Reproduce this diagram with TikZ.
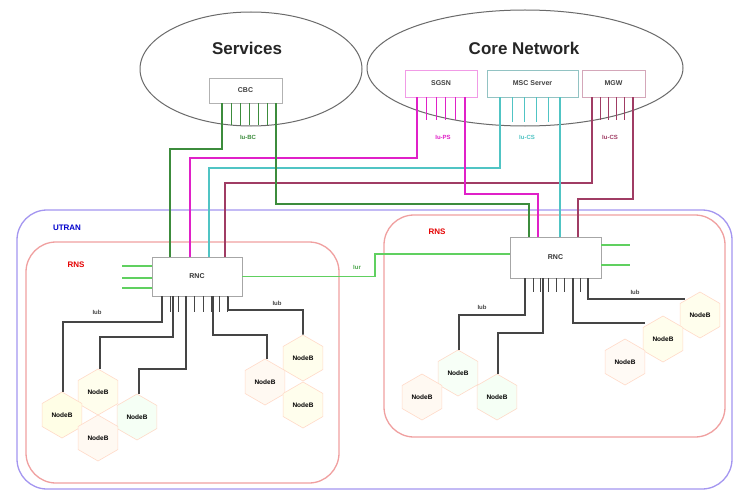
\documentclass[tikz,border=0pt]{standalone}
\usepackage{fontspec}
\setmainfont{Liberation Sans}
\usetikzlibrary{shapes.geometric}
\definecolor{iubc}{HTML}{3C8C3C}
\definecolor{iups}{HTML}{E020C8}
\definecolor{iucs}{HTML}{50C4C4}
\definecolor{iumgw}{HTML}{A03C64}
\definecolor{iubline}{HTML}{454545}
\definecolor{iurline}{HTML}{60D060}
\definecolor{utranc}{HTML}{A496F0}
\definecolor{rnsc}{HTML}{F0A0A0}
\definecolor{cloud}{HTML}{6A6A6A}
\begin{document}
\begin{tikzpicture}[x=1pt,y=-1pt,
  cloudline/.style={draw=cloud,line width=1pt},
  corebox/.style={rectangle,fill=white,line width=0.8pt,inner sep=0pt,
    font=\fontsize{7}{8}\selectfont\bfseries,text=black!75},
  rncbox/.style={rectangle,fill=white,draw=gray!70,line width=0.8pt,inner sep=0pt,
    font=\fontsize{7}{8}\selectfont\bfseries,text=black!80},
  cell/.style={regular polygon,regular polygon sides=6,shape border rotate=30,minimum size=46pt,
    inner sep=0pt,draw=orange!30!pink!45,fill=yellow!7,line width=0.6pt,
    font=\fontsize{6.5}{7}\selectfont\bfseries,text=black},
  stub/.style={line width=0.7pt},
  link/.style={line width=1.4pt},
  iubwire/.style={draw=iubline,line width=1.6pt},
  tiny/.style={font=\fontsize{6}{7}\selectfont\bfseries,inner sep=0pt},
  bigtitle/.style={font=\fontsize{17}{20}\selectfont\bfseries,text=black!85},
  region/.style={rounded corners=30pt,line width=1.3pt}
]
\useasboundingbox (0,0) rectangle (735,492);
\fill[white] (0,0) rectangle (735,492);

% ---------- domains ----------
\draw[region,draw=utranc] (17,210) rectangle (732,489);
\draw[region,draw=rnsc] (26,242) rectangle (339,483);
\draw[region,draw=rnsc] (384,215) rectangle (725,437);
\node[font=\fontsize{8}{9}\selectfont\bfseries,text=blue!80!black] (utranlbl) at (67,228) {UTRAN};
\node[font=\fontsize{8}{9}\selectfont\bfseries,text=red!90!black] (rnslblL) at (76,265) {RNS};
\node[font=\fontsize{8}{9}\selectfont\bfseries,text=red!90!black] (rnslblR) at (437,232) {RNS};

\draw[cloudline] (251,69) ellipse [x radius=111pt, y radius=57pt];
\draw[cloudline] (525,68) ellipse [x radius=158pt, y radius=58pt];
\node[bigtitle] (srv) at (247,48) {Services};
\node[bigtitle] (cn) at (524,48) {Core Network};

% ---------- core nodes ----------
\node[corebox,draw=gray!60,minimum width=73pt,minimum height=25pt] (cbc) at (245.5,90.5) {CBC};
\node[corebox,draw=iups!45,minimum width=72pt,minimum height=27pt] (sgsn) at (441,83.5) {SGSN};
\node[corebox,draw=iucs!60!gray!70,minimum width=91pt,minimum height=27pt] (msc) at (532.5,83.5) {MSC Server};
\node[corebox,draw=iumgw!45,minimum width=63pt,minimum height=27pt] (mgw) at (613.5,83.5) {MGW};

% interface stubs under the core nodes
\foreach \x in {222,231,240,249,258,267,276} \draw[stub,iubc] (\x,0 |- cbc.south) -- (\x,125);
\foreach \x in {417,426.6,436.2,445.8,455.4,465} \draw[stub,iups] (\x,0 |- sgsn.south) -- (\x,120);
\foreach \x in {500,512,524,536,548,560} \draw[stub,iucs] (\x,0 |- msc.south) -- (\x,122);
\foreach \x in {592,600.2,608.4,616.6,624.8,633} \draw[stub,iumgw] (\x,0 |- mgw.south) -- (\x,120);

\node[tiny,text=iubc] (lbc) at (248,137) {Iu-BC};
\node[tiny,text=iups] (lps) at (443,137) {Iu-PS};
\node[tiny,text=iucs] (lcs1) at (527,137) {Iu-CS};
\node[tiny,text=iumgw] (lcs2) at (610,137) {Iu-CS};

% ---------- RNCs ----------
\node[rncbox,minimum width=90pt,minimum height=39pt] (rncL) at (197,276.5) {RNC};
\node[rncbox,minimum width=91pt,minimum height=41pt] (rncR) at (555.5,257.5) {RNC};

% Iu links to the left RNC
\draw[link,iubc] (222,0 |- cbc.south) |- (170,149) -- (170,0 |- rncL.north);
\draw[link,iups] (417,0 |- sgsn.south) |- (190,158) -- (190,0 |- rncL.north);
\draw[link,iucs] (500,0 |- msc.south) |- (209,168) -- (209,0 |- rncL.north);
\draw[link,iumgw] (592,0 |- mgw.south) |- (225,183) -- (225,0 |- rncL.north);
% Iu links to the right RNC
\draw[link,iubc] (276,0 |- cbc.south) |- (529,204) -- (529,0 |- rncR.north);
\draw[link,iups] (465,0 |- sgsn.south) |- (538,194) -- (538,0 |- rncR.north);
\draw[link,iucs] (560,0 |- msc.south) -- (560,0 |- rncR.north);
\draw[link,iumgw] (633,0 |- mgw.south) |- (578,199) -- (578,0 |- rncR.north);

% Iur between the RNCs
\draw[link,iurline] (rncL.east) -- (375,0 |- rncL.east) |- (rncR.west |- 0,254);
\node[tiny,text=iurline!80!black] (lur) at (357,267) {Iur};

% loose Iur ports
\coordinate (pl1) at (122,266); \coordinate (pl2) at (122,278); \coordinate (pl3) at (122,288);
\draw[link,iurline] (pl1) -- (pl1 -| rncL.west);
\draw[link,iurline] (pl2) -- (pl2 -| rncL.west);
\draw[link,iurline] (pl3) -- (pl3 -| rncL.west);
\coordinate (pr1) at (630,245); \coordinate (pr2) at (630,265);
\draw[link,iurline] (pr1 -| rncR.east) -- (pr1);
\draw[link,iurline] (pr2 -| rncR.east) -- (pr2);

% ---------- NodeB cells ----------
\node[cell] (nA1) at (98,392) {NodeB};
\node[cell,fill=yellow!10] (nA2) at (62,415) {NodeB};
\node[cell,fill=green!4] (nA3) at (137,417) {NodeB};
\node[cell,fill=orange!5] (nA4) at (98,438) {NodeB};
\node[cell] (nB1) at (303,358) {NodeB};
\node[cell,fill=orange!5] (nB2) at (265,382) {NodeB};
\node[cell] (nB3) at (303,405) {NodeB};
\node[cell,fill=green!3] (nC1) at (458,373) {NodeB};
\node[cell,fill=orange!5] (nC2) at (422,397) {NodeB};
\node[cell,fill=green!4] (nC3) at (497,397) {NodeB};
\node[cell] (nD1) at (700,315) {NodeB};
\node[cell] (nD2) at (663,339) {NodeB};
\node[cell,fill=orange!4] (nD3) at (625,362) {NodeB};

% Iub stubs under the RNCs
\foreach \x in {162,170.2,178.4,186.6,194.8,203,211.2,219.4,227.6} \draw[stub,iubline] (\x,0 |- rncL.south) -- (\x,312);
\foreach \x in {525,532.9,540.8,548.6,556.5,564.4,572.3,580.1,588} \draw[stub,iubline] (\x,0 |- rncR.south) -- (\x,292);

% Iub links, left RNS
\draw[iubwire] (162,0 |- rncL.south) |- (63,322) -- (63,0 |- nA2.north);
\draw[iubwire] (173,0 |- rncL.south) |- (100,337) -- (100,0 |- nA1.north);
\draw[iubwire] (186,0 |- rncL.south) |- (139,369) -- (139,0 |- nA3.north);
\draw[iubwire] (213,0 |- rncL.south) |- (267,335) -- (267,0 |- nB2.north);
\draw[iubwire] (228,0 |- rncL.south) |- (303,310) -- (nB1.north);
\node[tiny,text=iubline] (lub1) at (97,312) {Iub};
\node[tiny,text=iubline] (lub2) at (277,303) {Iub};

% Iub links, right RNS
\coordinate (eD2) at (645,323);
\coordinate (eD1) at (685,299);
\draw[iubwire] (525,0 |- rncR.south) |- (459,315) -- (459,0 |- nC1.north);
\draw[iubwire] (543,0 |- rncR.south) |- (498,333) -- (498,0 |- nC3.north);
\draw[iubwire] (573,0 |- rncR.south) |- (eD2);
\draw[iubwire] (588,0 |- rncR.south) |- (eD1);
\node[tiny,text=iubline] (lub3) at (482,307) {Iub};
\node[tiny,text=iubline] (lub4) at (635,292) {Iub};
\end{tikzpicture}
\end{document}
